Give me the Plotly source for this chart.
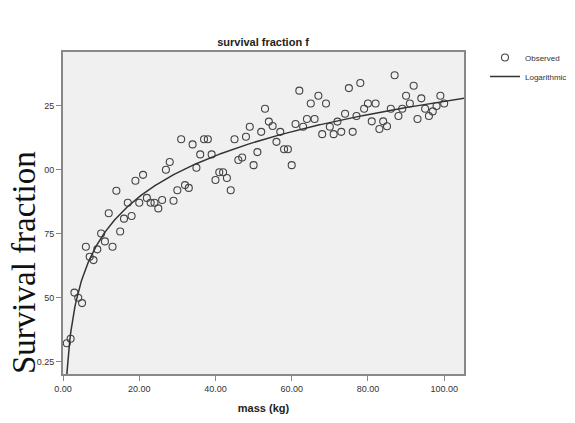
import numpy as np
import plotly.graph_objects as go

mass = list(range(1, 101))
survival = [
    0.322, 0.34, 0.52, 0.50, 0.479, 0.699, 0.66, 0.647, 0.689, 0.751,
    0.72, 0.83, 0.699, 0.918, 0.759, 0.809, 0.871, 0.819, 0.957, 0.871,
    0.98, 0.89, 0.871, 0.871, 0.849, 0.882, 1.0, 1.03, 0.879, 0.92,
    1.119, 0.94, 0.929, 1.099, 1.008, 1.06, 1.119, 1.119, 1.06, 0.96,
    0.99, 0.99, 0.968, 0.92, 1.119, 1.038, 1.048, 1.129, 1.168, 1.018,
    1.069, 1.148, 1.238, 1.188, 1.171, 1.109, 1.148, 1.08, 1.08, 1.018,
    1.179, 1.309, 1.168, 1.198, 1.259, 1.198, 1.289, 1.139, 1.259, 1.168,
    1.139, 1.188, 1.148, 1.219, 1.319, 1.148, 1.21, 1.339, 1.238, 1.259,
    1.189, 1.259, 1.159, 1.189, 1.17, 1.238, 1.369, 1.21, 1.238, 1.289,
    1.259, 1.328, 1.198, 1.279, 1.238, 1.21, 1.228, 1.249, 1.289, 1.259,
]
x_ticks = [0, 20, 40, 60, 80, 100]
x_tick_labels = ["0.00", "20.00", "40.00", "60.00", "80.00", "100.00"]
y_ticks = [0.25, 0.50, 0.75, 1.00, 1.25]
y_tick_labels = ["0.25", "50", "75", "00", "25"]

# logarithmic fit y = a + b*ln(x)
xa = np.array(mass, dtype=float)
ya = np.array(survival)
b, a = np.polyfit(np.log(xa), ya, 1)
xf = np.linspace(1.0, 105.5, 400)
yf = a + b * np.log(xf)

fig = go.Figure()
fig.add_trace(go.Scatter(
    x=mass, y=survival, mode="markers", name="Observed",
    marker=dict(symbol="circle-open", size=7, color="#444444", line=dict(width=1.1)),
))
fig.add_trace(go.Scatter(
    x=xf, y=yf, mode="lines", name="Logarithmic",
    line=dict(color="#333333", width=1.5),
))

fig.update_layout(
    width=575, height=423,
    margin=dict(l=63, r=111, t=52, b=49, autoexpand=False),
    paper_bgcolor="white", plot_bgcolor="#f0f0f0",
    font=dict(family="Liberation Sans, Arial, sans-serif", size=9, color="#333333"),
    title=dict(text="<b>survival fraction f</b>", x=263 / 575, xanchor="center",
               y=1 - 42 / 423, yanchor="middle",
               font=dict(size=11, color="#222222")),
    showlegend=True,
    legend=dict(xref="container", yref="container", x=485 / 575, y=1 - 43 / 423,
                xanchor="left", yanchor="top",
                font=dict(size=8, color="#333333"), bgcolor="rgba(0,0,0,0)",
                itemwidth=30, tracegroupgap=0),
    xaxis=dict(range=[0, 105.2], tickvals=x_ticks, ticktext=x_tick_labels,
               ticks="outside", ticklen=5, tickcolor="#888888",
               showgrid=False, zeroline=False, showline=True, mirror=True,
               linecolor="#888888", linewidth=2,
               title=dict(text="<b>mass (kg)</b>", font=dict(size=11, color="#222222"), standoff=12)),
    yaxis=dict(range=[0.202, 1.46], tickvals=y_ticks, ticktext=y_tick_labels,
               ticks="outside", ticklen=5, tickcolor="#888888",
               showgrid=False, zeroline=False, showline=True, mirror=True,
               linecolor="#888888", linewidth=2),
    annotations=[dict(
        text="Survival fraction", textangle=-90, xref="paper", yref="paper",
        x=-(63 - 24) / 401, y=(374 - 263) / 322, xanchor="center", yanchor="middle",
        showarrow=False, font=dict(family="Liberation Serif, Times New Roman, serif", size=33, color="#111111"),
    )],
)

fig.write_html("out.html")
